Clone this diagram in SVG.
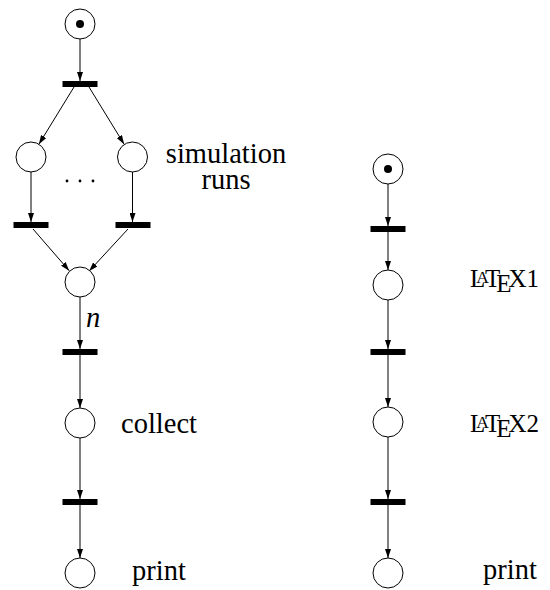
<svg xmlns="http://www.w3.org/2000/svg" width="550" height="590" viewBox="0 0 550 590">
<style>
.pl{fill:#fff;stroke:#000;stroke-width:1}
.tr{fill:#000}
.tok{fill:#000}
.ar{fill:none;stroke:#000;stroke-width:1;marker-end:url(#ah)}
.lbl{font-size:28.5px}
.ltx{font-size:25px}
</style>
<defs>
<marker id="ah" markerWidth="10" markerHeight="6" refX="9" refY="3" orient="auto" markerUnits="userSpaceOnUse">
<path d="M0,0 L9,3 L0,6 Z" fill="#000"/>
</marker>
</defs>
<g font-family="Liberation Serif, DejaVu Serif, serif" fill="#000">
<g id="connectors">
<line class="ar" x1="80" y1="39" x2="80" y2="81"/>
<line class="ar" x1="74" y1="87" x2="38.9" y2="144.2"/>
<line class="ar" x1="89" y1="87" x2="124.1" y2="144.2"/>
<line class="ar" x1="31" y1="172" x2="31" y2="222"/>
<line class="ar" x1="132.5" y1="172" x2="132.5" y2="222"/>
<line class="ar" x1="33" y1="229" x2="69.2" y2="270.7"/>
<line class="ar" x1="128" y1="229" x2="89.2" y2="271"/>
<line class="ar" x1="80" y1="297" x2="80" y2="349"/>
<line class="ar" x1="80" y1="355" x2="80" y2="408"/>
<line class="ar" x1="80" y1="438" x2="80" y2="499"/>
<line class="ar" x1="80" y1="505" x2="80" y2="558"/>
<line class="ar" x1="388" y1="184" x2="388" y2="226"/>
<line class="ar" x1="388" y1="232" x2="388" y2="270"/>
<line class="ar" x1="388" y1="300" x2="388" y2="349"/>
<line class="ar" x1="388" y1="355" x2="388" y2="407"/>
<line class="ar" x1="388" y1="437" x2="388" y2="499"/>
<line class="ar" x1="388" y1="505" x2="388" y2="558"/>
<text class="lbl" x="86" y="327" font-style="italic">n</text>
</g>
<g id="p_start"><circle class="pl" cx="80" cy="24" r="15"/><circle class="tok" cx="80" cy="24" r="4"/></g>
<g id="t_fork"><rect class="tr" x="62.5" y="81" width="35" height="6"/></g>
<g id="p_sim1"><circle class="pl" cx="31" cy="157" r="15"/></g>
<g id="p_sim2"><circle class="pl" cx="132.5" cy="157" r="15"/></g>
<g id="dots"><circle cx="67" cy="181" r="1.4"/><circle cx="80" cy="181" r="1.4"/><circle cx="93" cy="181" r="1.4"/></g>
<g id="lbl_sim"><text class="lbl" x="226" y="163" text-anchor="middle">simulation</text><text class="lbl" x="226" y="189" text-anchor="middle">runs</text></g>
<g id="t_sim1"><rect class="tr" x="13.5" y="222" width="35" height="6"/></g>
<g id="t_sim2"><rect class="tr" x="115.5" y="222" width="35" height="6"/></g>
<g id="p_merge"><circle class="pl" cx="80" cy="282" r="15"/></g>
<g id="t_n"><rect class="tr" x="62.5" y="349" width="35" height="6"/></g>
<g id="p_collect"><circle class="pl" cx="80" cy="423" r="15"/><text class="lbl" x="121" y="433">collect</text></g>
<g id="t_collect"><rect class="tr" x="62.5" y="499" width="35" height="6"/></g>
<g id="p_print1"><circle class="pl" cx="80" cy="573" r="15"/><text class="lbl" x="132" y="580">print</text></g>
<g id="p_start2"><circle class="pl" cx="388" cy="169" r="15"/><circle class="tok" cx="388" cy="169" r="4"/></g>
<g id="t_r1"><rect class="tr" x="370.5" y="226" width="35" height="6"/></g>
<g id="p_latex1"><circle class="pl" cx="388" cy="285" r="15"/><text class="ltx" x="470" y="287">L<tspan dx="-9" dy="-4" font-size="17.5">A</tspan><tspan dx="-3.8" dy="4">T</tspan><tspan dx="-4.2" dy="5">E</tspan><tspan dx="-3.1" dy="-5">X</tspan>1</text></g>
<g id="t_r2"><rect class="tr" x="370.5" y="349" width="35" height="6"/></g>
<g id="p_latex2"><circle class="pl" cx="388" cy="422" r="15"/><text class="ltx" x="470" y="432">L<tspan dx="-9" dy="-4" font-size="17.5">A</tspan><tspan dx="-3.8" dy="4">T</tspan><tspan dx="-4.2" dy="5">E</tspan><tspan dx="-3.1" dy="-5">X</tspan>2</text></g>
<g id="t_r3"><rect class="tr" x="370.5" y="499" width="35" height="6"/></g>
<g id="p_print2"><circle class="pl" cx="388" cy="573" r="15"/><text class="lbl" x="483" y="579">print</text></g>
</g>
</svg>
